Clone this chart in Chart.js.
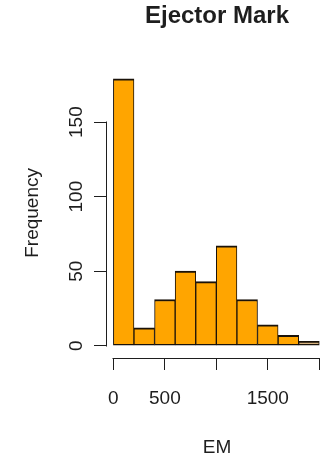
<!DOCTYPE html>
<html><head><meta charset="utf-8">
<script src="https://cdn.jsdelivr.net/npm/chart.js@4/dist/chart.umd.min.js"></script>
<style>html,body{margin:0;padding:0;background:#fff;} canvas{display:block;}</style>
</head><body>
<canvas id="c" width="327" height="459"></canvas>
<script>
// ---- data ----
const binCenters = [100, 300, 500, 700, 900, 1100, 1300, 1500, 1700, 1900];
const frequency  = [179, 12, 31, 50, 43, 67, 31, 14, 7, 3];
const xTickValues = [0, 500, 1000, 1500, 2000];
const xTickLabels = ['0', '500', '', '1500', ''];
const yTickValues = [0, 50, 100, 150];
const yTickLabels = ['0', '50', '100', '150'];
const chartTitle = 'Ejector Mark';
const xTitle = 'EM';
const yTitle = 'Frequency';

// ---- styles ----
const FONT = "'Liberation Sans', Arial, Helvetica, sans-serif";
const INK = '#1e1e1e';
const barFill = frequency.map((_, i) => i === frequency.length - 1 ? '#D6B27E' : '#FFA500');

const rAxisLines = {
  id: 'rAxisLines',
  afterDraw(chart) {
    const {ctx, chartArea, scales: {x, y}} = chart;
    ctx.save();
    ctx.strokeStyle = INK;
    ctx.lineWidth = 1;
    ctx.beginPath();
    const ax = Math.round(chartArea.left) - 0.5;
    ctx.moveTo(ax, Math.round(y.getPixelForValue(yTickValues[0])) + 0.5);
    ctx.lineTo(ax, Math.round(y.getPixelForValue(yTickValues[yTickValues.length - 1])) - 0.5);
    const ay = Math.round(chartArea.bottom) + 0.5;
    ctx.moveTo(Math.round(x.getPixelForValue(xTickValues[0])) - 0.5, ay);
    ctx.lineTo(Math.round(x.getPixelForValue(xTickValues[xTickValues.length - 1])) + 0.5, ay);
    ctx.stroke();
    ctx.restore();
  }
};

function noPad(s) { s.paddingLeft = 0; s.paddingRight = 0; s.paddingTop = 0; s.paddingBottom = 0; }

new Chart(document.getElementById('c'), {
  type: 'bar',
  data: {
    datasets: [{
      data: binCenters.map((c, i) => ({x: c, y: frequency[i]})),
      backgroundColor: barFill,
      borderColor: '#1a1209',
      borderWidth: { top: 2, bottom: 1.5, left: 1, right: 1 },
      borderSkipped: false,
      categoryPercentage: 1,
      barPercentage: 1
    }]
  },
  options: {
    responsive: false,
    animation: false,
    devicePixelRatio: 1,
    layout: { padding: 0 },
    plugins: {
      legend: { display: false },
      tooltip: { enabled: false },
      title: {
        display: true, text: chartTitle, fullSize: false, color: INK,
        font: { family: FONT, size: 24, weight: 'bold', lineHeight: 1.2 },
        padding: { top: 2, bottom: 37 }
      }
    },
    scales: {
      x: {
        type: 'linear', position: 'bottom', min: -62, max: 2075, offset: false,
        afterBuildTicks: s => { s.ticks = xTickValues.map(v => ({ value: v })); },
        afterFit: s => { s.height = 101; noPad(s); },
        grid: { display: true, offset: false, drawOnChartArea: false, drawTicks: true, tickLength: 12, color: INK, lineWidth: 1 },
        border: { display: false },
        ticks: { autoSkip: false, minRotation: 0, maxRotation: 0, padding: 17.5, color: INK,
                 font: { family: FONT, size: 19 }, callback: (v, i) => xTickLabels[i] },
        title: { display: true, text: xTitle, color: INK, font: { family: FONT, size: 19 }, padding: { top: 0, bottom: 0 } }
      },
      y: {
        type: 'linear', position: 'left', min: -8.26, max: 186.46, offset: false,
        afterBuildTicks: s => { s.ticks = yTickValues.map(v => ({ value: v })); },
        afterFit: s => { s.width = 107; noPad(s); },
        grid: { display: true, offset: false, drawOnChartArea: false, drawTicks: true, tickLength: 13, color: INK, lineWidth: 1 },
        border: { display: false },
        ticks: { autoSkip: false, minRotation: 90, maxRotation: 90, crossAlign: 'center', padding: 1, color: INK,
                 font: { family: FONT, size: 19 }, callback: (v, i) => yTickLabels[i] },
        title: { display: true, text: yTitle, color: INK, font: { family: FONT, size: 19 }, padding: { top: 21.6, bottom: 0 } }
      }
    }
  },
  plugins: [rAxisLines]
});
</script>
</body></html>
